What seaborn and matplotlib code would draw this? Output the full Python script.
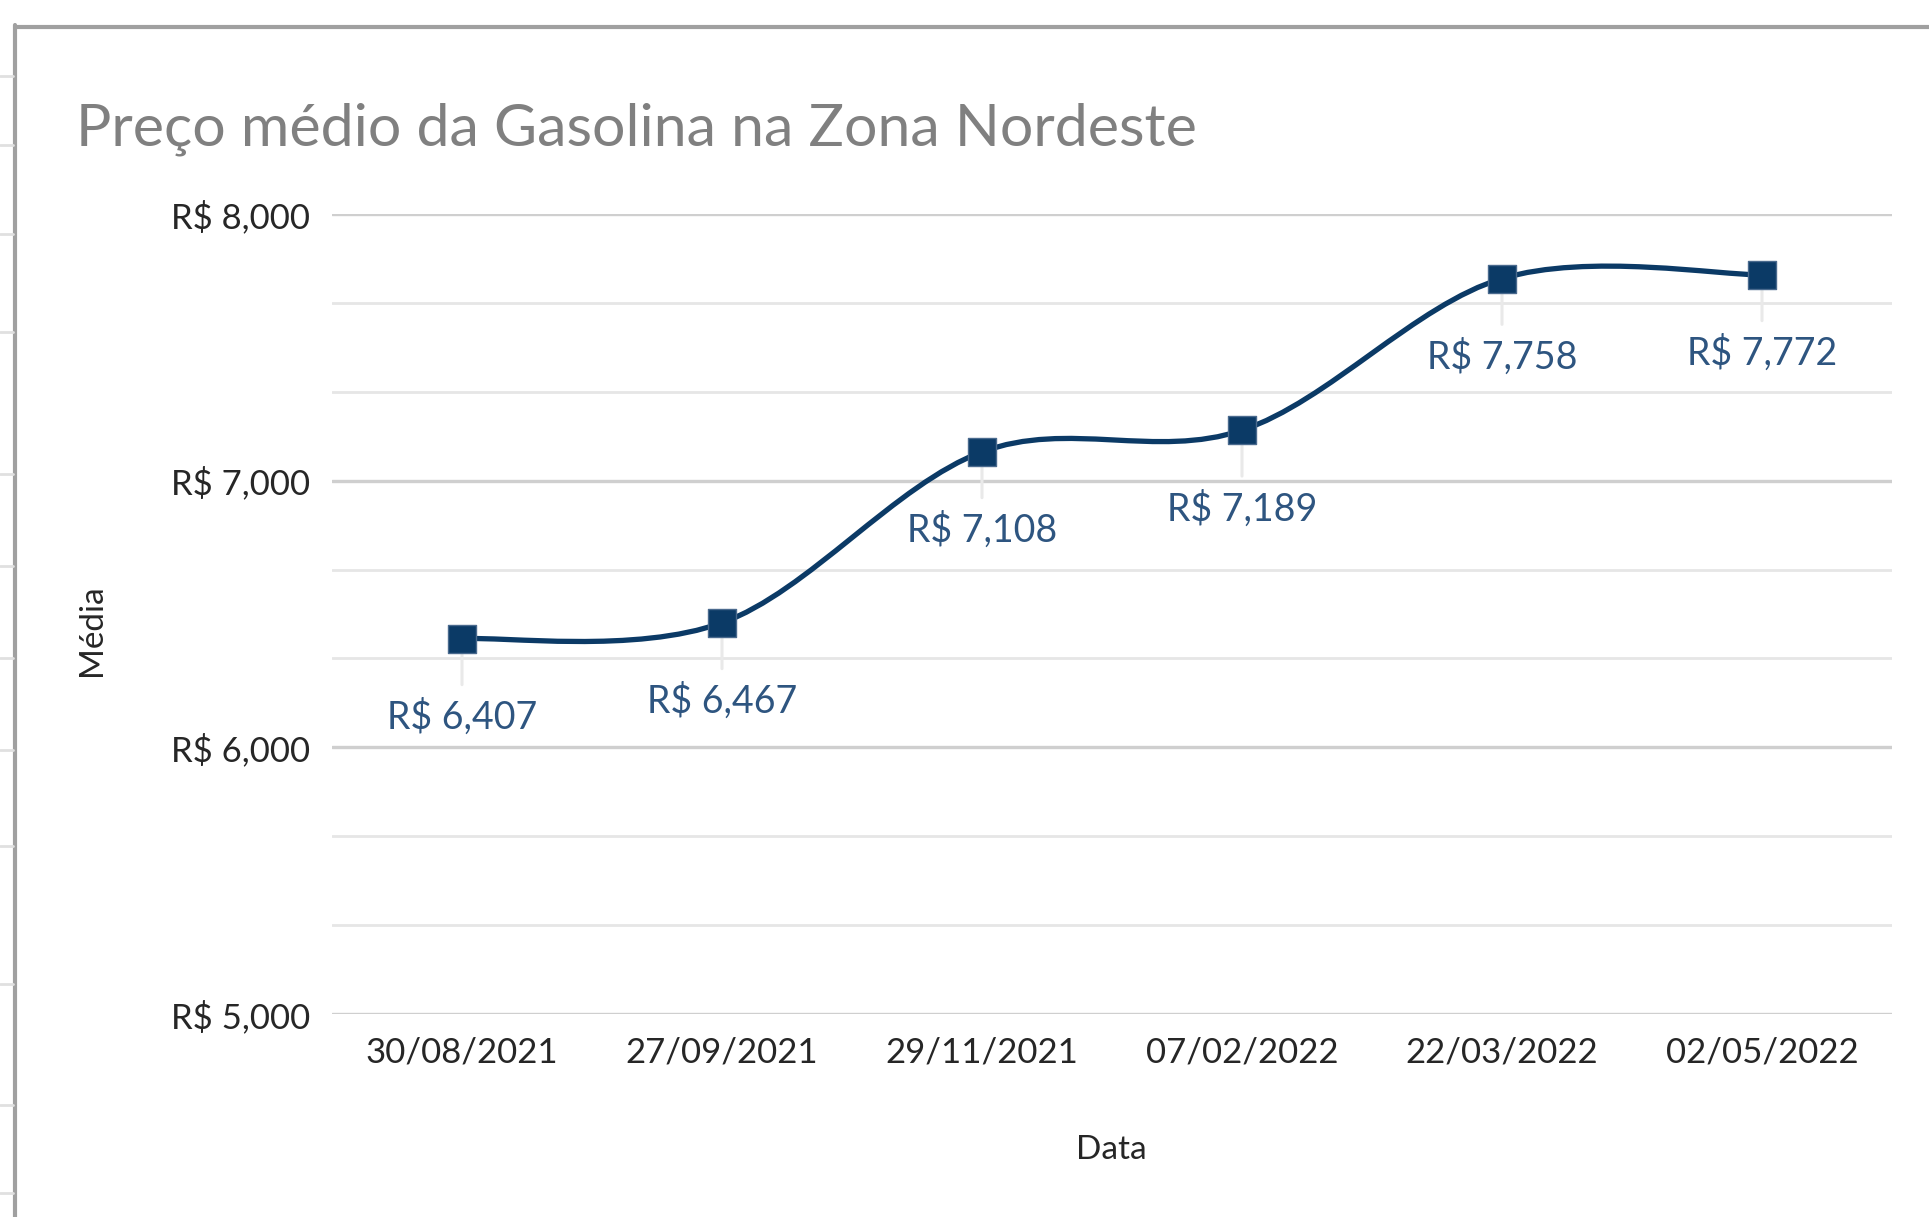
import numpy as np
import matplotlib
matplotlib.use('Agg')
import matplotlib.pyplot as plt
import seaborn as sns
from matplotlib.path import Path
from matplotlib.patches import PathPatch
from matplotlib.lines import Line2D

datas = ['30/08/2021', '27/09/2021', '29/11/2021', '07/02/2022', '22/03/2022', '02/05/2022']
precos = [6.407, 6.467, 7.108, 7.189, 7.758, 7.772]
y_ticks = [5, 6, 7, 8]

def reais(v):
    return 'R$ ' + f'{v:.3f}'.replace('.', ',')

sns.set_style('white')
plt.rcParams['font.family'] = ['Lato', 'DejaVu Sans']

W, H = 1929, 1217
fig = plt.figure(figsize=(W / 100, H / 100), dpi=100)
fig.patch.set_facecolor('white')
ax = fig.add_axes([332 / W, 1 - 1014 / H, (1892 - 332) / W, (1014 - 214) / H])

cor = '#0b3a66'
sns.scatterplot(x=datas, y=precos, marker='s', s=390, color=cor,
                edgecolor='#4a6a8e', linewidth=1, zorder=5, ax=ax)

# linha suavizada (bezier estilo Excel)
pts = np.column_stack([np.arange(len(precos)), precos]).astype(float)
n = len(pts)
verts = [pts[0]]
codes = [Path.MOVETO]
for i in range(n - 1):
    p_ant = pts[i - 1] if i > 0 else pts[i]
    p_prox = pts[i + 2] if i + 2 < n else pts[i + 1]
    c1 = pts[i] + (pts[i + 1] - p_ant) / 6
    c2 = pts[i + 1] - (p_prox - pts[i]) / 6
    verts += [c1, c2, pts[i + 1]]
    codes += [Path.CURVE4] * 3
ax.add_patch(PathPatch(Path(verts, codes), facecolor='none', edgecolor=cor,
                       lw=3.8, zorder=4, capstyle='round'))

# rótulos de dados com linhas guia
for i, v in enumerate(precos):
    ax.annotate(reais(v), xy=(i, v), xytext=(0, -56.5), textcoords='offset points',
                ha='center', va='center', fontsize=27, color='#2e5580', zorder=6)
    ax.annotate('', xy=(i, v), xytext=(0, -33), textcoords='offset points',
                arrowprops=dict(arrowstyle='-', color='#e9e9e9', lw=2.2,
                                shrinkA=0, shrinkB=9), zorder=3)

ax.set_xlim(-0.5, len(datas) - 0.5)
ax.set_ylim(5, 8)
ax.set_yticks(y_ticks)
ax.set_yticklabels([reais(t) for t in y_ticks])
ax.set_yticks([5 + k / 3 for k in range(10) if k % 3 != 0], minor=True)
ax.grid(axis='y', which='major', color='#cfcfcf', lw=2.4, zorder=0)
ax.grid(axis='y', which='minor', color='#e6e6e6', lw=2.0, zorder=0)
ax.grid(axis='x', visible=False)
ax.set_axisbelow(True)
ax.tick_params(axis='y', which='both', length=0, pad=16, labelsize=25, labelcolor='#262626')
ax.tick_params(axis='x', length=0, pad=16, labelsize=25, labelcolor='#262626')
for s in ax.spines.values():
    s.set_visible(False)
ax.set_xlabel('')
ax.set_ylabel('')

fig.text(76 / W, 1 - 145 / H, 'Preço médio da Gasolina na Zona Nordeste',
         fontsize=42.5, color='#808080', ha='left', va='baseline')
fig.text(92 / W, 1 - 630 / H, 'Média', rotation=90, fontsize=24,
         color='#262626', ha='center', va='center')
fig.text(1111 / W, 1 - 1150 / H, 'Data', fontsize=24,
         color='#262626', ha='center', va='center')

# moldura do gráfico e restos da planilha
fig.add_artist(Line2D([15 / W, 15 / W], [0, 1 - 25 / H], transform=fig.transFigure,
                      color='#a0a0a0', lw=3))
fig.add_artist(Line2D([15 / W, 1], [1 - 27 / H, 1 - 27 / H], transform=fig.transFigure,
                      color='#a0a0a0', lw=3))
for yy in [76, 145, 234, 332, 474, 566, 658, 750, 846, 984, 1105, 1193]:
    fig.add_artist(Line2D([0, 13 / W], [1 - yy / H, 1 - yy / H], transform=fig.transFigure,
                          color='#e0e0e0', lw=2))

fig.savefig('out.png', dpi=100)
